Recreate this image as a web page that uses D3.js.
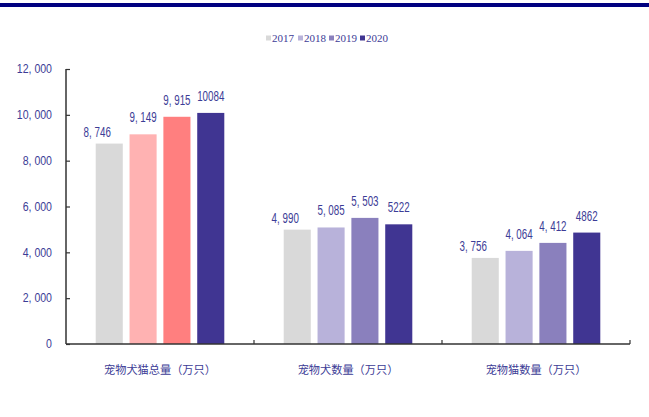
<!DOCTYPE html>
<html>
<head>
<meta charset="utf-8">
<script src="https://cdn.jsdelivr.net/npm/d3@7"></script>
<style>
  body { margin: 0; background: #fff; }
  svg text { fill: #3c3c96; }
</style>
</head>
<body>
<div id="chart"></div>
<script>
// chart data
var categories = ["宠物犬猫总量（万只）", "宠物犬数量（万只）", "宠物猫数量（万只）"];
var years = ["2017", "2018", "2019", "2020"];
var values = [
  [8746, 9149, 9915, 10084],
  [4990, 5085, 5503, 5222],
  [3756, 4064, 4412, 4862]
];
var valueLabels = [
  ["8, 746", "9, 149", "9, 915", "10084"],
  ["4, 990", "5, 085", "5, 503", "5222"],
  ["3, 756", "4, 064", "4, 412", "4862"]
];
var yTicks = [0, 2000, 4000, 6000, 8000, 10000, 12000];

var legendColors = ["#d9d9d9", "#b8b2da", "#8a80bd", "#403592"];
// the first group is drawn in a different palette
var groupColors = [
  ["#d9d9d9", "#ffb2b2", "#ff7f7f", "#403592"],
  legendColors,
  legendColors
];

var W = 649, H = 417;
var margin = {top: 69, left: 66, right: 19, bottom: 73};
var width = W - margin.left - margin.right,
    height = H - margin.top - margin.bottom;

var svg = d3.select("#chart").append("svg")
    .attr("width", W)
    .attr("height", H);

// top banner line
svg.append("rect")
    .attr("x", 0).attr("y", 3)
    .attr("width", W).attr("height", 4)
    .attr("fill", "#000080");

var g = svg.append("g")
    .attr("transform", "translate(" + margin.left + "," + margin.top + ")");

var x = d3.scaleBand().domain(categories).range([0, width]);
var xi = d3.scaleBand().domain(years)
    .range([x.bandwidth() * 0.158, x.bandwidth() * 0.842])
    .paddingInner(0.2);
var y = d3.scaleLinear().domain([0, 12000]).range([height, 0]);

var numFont = "'Liberation Sans', Arial, sans-serif";

// bars
var groups = g.selectAll(".grp")
    .data(categories)
    .enter().append("g")
    .attr("class", "grp")
    .attr("transform", function(d) { return "translate(" + x(d) + ",0)"; });

groups.each(function(cat, ci) {
  var sel = d3.select(this);
  sel.selectAll("rect")
      .data(values[ci])
      .enter().append("rect")
      .attr("x", function(d, i) { return xi(years[i]); })
      .attr("y", function(d) { return y(d); })
      .attr("width", xi.bandwidth())
      .attr("height", function(d) { return height - y(d); })
      .attr("fill", function(d, i) { return groupColors[ci][i]; });

  // 2017 labels sit a bit lower and to the left in the original
  sel.selectAll("text.val")
      .data(values[ci])
      .enter().append("text")
      .attr("class", "val")
      .attr("transform", function(d, i) {
        var cx = xi(years[i]) + xi.bandwidth() / 2 + (i === 0 ? -12 : 0);
        var cy = y(d) - (i === 0 ? 7 : 12);
        return "translate(" + cx + "," + cy + ") scale(0.7,1)";
      })
      .attr("text-anchor", "middle")
      .style("font-family", numFont)
      .style("font-size", "14px")
      .text(function(d, i) { return valueLabels[ci][i]; });
});

// y axis
var yAxis = g.append("g")
    .call(d3.axisRight(y).tickValues(yTicks).tickSize(4).tickFormat(""));
yAxis.select(".domain").attr("stroke", "#333").attr("stroke-width", 1.5)
    .attr("d", "M0," + y(12000) + "H0V" + height);
yAxis.selectAll(".tick line").attr("stroke", "#333").attr("stroke-width", 1.2);

g.selectAll(".ylab")
    .data(yTicks)
    .enter().append("text")
    .attr("class", "ylab")
    .attr("transform", function(d) { return "translate(-14," + y(d) + ") scale(0.88,1)"; })
    .attr("dy", "0.35em")
    .attr("text-anchor", "end")
    .style("font-family", numFont)
    .style("font-size", "12px")
    .text(function(d) { return d === 0 ? "0" : d3.format(",")(d).replace(",", ", "); });

// x axis
var xAxisG = g.append("g")
    .attr("transform", "translate(0," + height + ")");
xAxisG.append("line")
    .attr("x1", 0).attr("x2", width)
    .attr("stroke", "#333").attr("stroke-width", 1.5);
xAxisG.selectAll(".xtick")
    .data(categories.map(function(c) { return x(c) + x.bandwidth(); }))
    .enter().append("line")
    .attr("x1", function(d) { return d; })
    .attr("x2", function(d) { return d; })
    .attr("y1", 0).attr("y2", -4)
    .attr("stroke", "#333").attr("stroke-width", 1.2);
xAxisG.selectAll(".xlab")
    .data(categories)
    .enter().append("text")
    .attr("x", function(d) { return x(d) + x.bandwidth() / 2; })
    .attr("y", 30)
    .attr("text-anchor", "middle")
    .style("font-family", "'Noto Sans CJK SC', sans-serif")
    .style("font-size", "11.2px")
    .text(function(d) { return d; });

// legend
var legend = svg.append("g").attr("transform", "translate(266,38)");
var lx = [0, 32, 63, 94];
years.forEach(function(yr, i) {
  legend.append("rect")
      .attr("x", lx[i]).attr("y", -2.5)
      .attr("width", 5).attr("height", 5)
      .attr("fill", legendColors[i]);
  legend.append("text")
      .attr("x", lx[i] + 6).attr("y", 0)
      .attr("dy", "0.35em")
      .style("font-family", "'Liberation Serif', 'DejaVu Serif', serif")
      .style("font-size", "11px")
      .text(yr);
});
</script>
</body>
</html>
